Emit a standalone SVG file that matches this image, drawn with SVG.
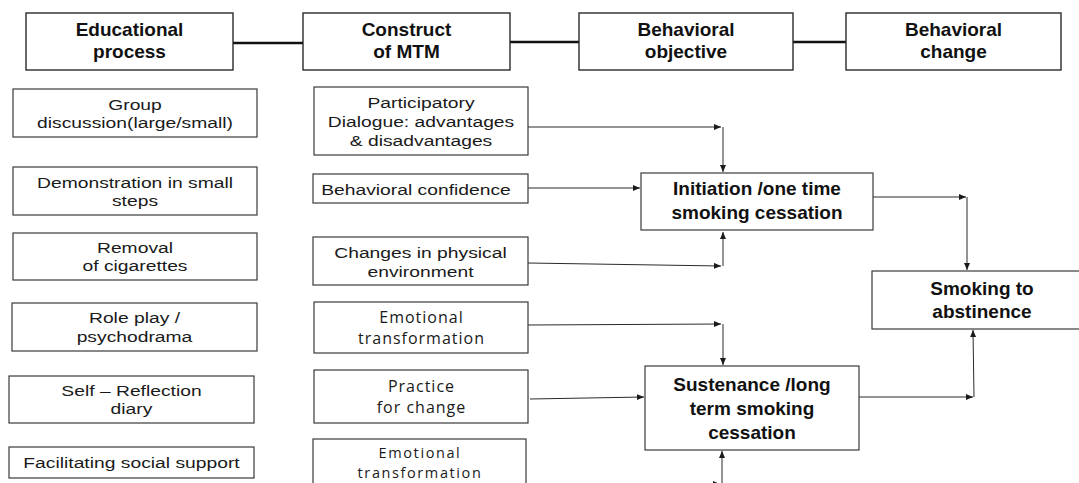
<svg xmlns="http://www.w3.org/2000/svg" width="1079" height="483" viewBox="0 0 1079 483">
<style>
.box{fill:#fff;stroke:#3a3a3a;stroke-width:1.2}
.hbox{fill:#fff;stroke:#2a2a2a;stroke-width:1.4}
.h{font-family:"Liberation Sans",Arial,sans-serif;font-weight:700;font-size:19px;fill:#111;text-anchor:middle}
.a{font-family:"Liberation Sans",Arial,sans-serif;font-size:14.5px;fill:#1a1a1a;text-anchor:middle}
.o{font-family:"Open Sans","Liberation Sans",sans-serif;font-size:16px;letter-spacing:1px;fill:#1a1a1a;text-anchor:middle}
.o2{font-family:"Open Sans","Liberation Sans",sans-serif;font-size:14.5px;letter-spacing:1.6px;fill:#1a1a1a;text-anchor:middle}
.c{fill:none;stroke:#2a2a2a;stroke-width:1}
.t{fill:none;stroke:#111;stroke-width:2.6}
</style>
<defs>
<marker id="ah" markerUnits="userSpaceOnUse" markerWidth="8" markerHeight="8" refX="7" refY="3" orient="auto">
<path d="M0,0 L7,3 L0,6 z" fill="#1a1a1a"/>
</marker>
</defs>
<rect width="1079" height="483" fill="#fff"/>

<g id="connectors">
<path class="t" d="M233,43 L303,43"/>
<path class="t" d="M510,42 L579,42"/>
<path class="t" d="M793,42 L846,42"/>
<path class="c" d="M528,127 L721,127" marker-end="url(#ah)"/>
<path class="c" d="M723,127 L723,172" marker-end="url(#ah)"/>
<path class="c" d="M528,188 L640,188" marker-end="url(#ah)"/>
<path class="c" d="M528,263 L721,266" marker-end="url(#ah)"/>
<path class="c" d="M723,266 L723,232" marker-end="url(#ah)"/>
<path class="c" d="M528,325 L721,324" marker-end="url(#ah)"/>
<path class="c" d="M723,324 L723,365" marker-end="url(#ah)"/>
<path class="c" d="M530,399 L644,397" marker-end="url(#ah)"/>
<path class="c" d="M526,486 L720,484" marker-end="url(#ah)"/>
<path class="c" d="M722,495 L722,451" marker-end="url(#ah)"/>
<path class="c" d="M873,197 L966,197" marker-end="url(#ah)"/>
<path class="c" d="M967,197 L967,270" marker-end="url(#ah)"/>
<path class="c" d="M859,397 L973,397" marker-end="url(#ah)"/>
<path class="c" d="M974,397 L973,330" marker-end="url(#ah)"/>
</g>

<g id="h-educational">
<rect class="hbox" x="26" y="13" width="207" height="57"/>
<text class="h"><tspan x="129.5" y="36">Educational</tspan><tspan x="129.5" y="58">process</tspan></text>
</g>
<g id="h-construct">
<rect class="hbox" x="303" y="13" width="207" height="57"/>
<text class="h"><tspan x="406.5" y="36">Construct</tspan><tspan x="406.5" y="58">of MTM</tspan></text>
</g>
<g id="h-objective">
<rect class="hbox" x="579" y="13" width="214" height="57"/>
<text class="h"><tspan x="686" y="36">Behavioral</tspan><tspan x="686" y="58">objective</tspan></text>
</g>
<g id="h-change">
<rect class="hbox" x="846" y="13" width="215" height="57"/>
<text class="h"><tspan x="953.5" y="36">Behavioral</tspan><tspan x="953.5" y="58">change</tspan></text>
</g>

<g id="e-group">
<rect class="box" x="13" y="89" width="244" height="48"/>
<text class="a" transform="translate(135 0) scale(1.33 1)"><tspan x="0" y="110">Group</tspan><tspan x="0" y="128">discussion(large/small)</tspan></text>
</g>
<g id="e-demo">
<rect class="box" x="13" y="167" width="244" height="48"/>
<text class="a" transform="translate(135 0) scale(1.33 1)"><tspan x="0" y="188">Demonstration  in small</tspan><tspan x="0" y="206">steps</tspan></text>
</g>
<g id="e-removal">
<rect class="box" x="13" y="233" width="244" height="47"/>
<text class="a" transform="translate(135 0) scale(1.33 1)"><tspan x="0" y="253">Removal</tspan><tspan x="0" y="271">of cigarettes</tspan></text>
</g>
<g id="e-role">
<rect class="box" x="12" y="303" width="245" height="48"/>
<text class="a" transform="translate(134.5 0) scale(1.33 1)"><tspan x="0" y="323">Role play /</tspan><tspan x="0" y="342">psychodrama</tspan></text>
</g>
<g id="e-self">
<rect class="box" x="9" y="376" width="245" height="47"/>
<text class="a" transform="translate(131.5 0) scale(1.33 1)"><tspan x="0" y="396">Self – Reflection</tspan><tspan x="0" y="414">diary</tspan></text>
</g>
<g id="e-social">
<rect class="box" x="9" y="447" width="245" height="31"/>
<text class="a" transform="translate(131.5 0) scale(1.33 1)"><tspan x="0" y="468">Facilitating social support</tspan></text>
</g>

<g id="m-participatory">
<rect class="box" x="314" y="87" width="214" height="68"/>
<text class="a" transform="translate(421 0) scale(1.33 1)"><tspan x="0" y="108">Participatory</tspan><tspan x="0" y="127">Dialogue:  advantages</tspan><tspan x="0" y="146">&amp; disadvantages</tspan></text>
</g>
<g id="m-confidence">
<rect class="box" x="313" y="174" width="215" height="29"/>
<text class="a" transform="translate(416 0) scale(1.33 1)"><tspan x="0" y="195">Behavioral confidence</tspan></text>
</g>
<g id="m-changes">
<rect class="box" x="313" y="237" width="215" height="48"/>
<text class="a" transform="translate(420.5 0) scale(1.33 1)"><tspan x="0" y="258">Changes  in physical</tspan><tspan x="0" y="277">environment</tspan></text>
</g>
<g id="m-emotional1">
<rect class="box" x="314" y="302" width="214" height="51"/>
<text class="o"><tspan x="421.5" y="323">Emotional</tspan><tspan x="421.5" y="344">transformation</tspan></text>
</g>
<g id="m-practice">
<rect class="box" x="314" y="370" width="214" height="53"/>
<text class="o"><tspan x="421.5" y="392">Practice</tspan><tspan x="421.5" y="413">for change</tspan></text>
</g>
<g id="m-emotional2">
<rect class="box" x="313" y="439" width="213" height="60"/>
<text class="o2"><tspan x="420" y="458">Emotional</tspan><tspan x="420" y="478">transformation</tspan></text>
</g>

<g id="o-initiation">
<rect class="box" x="641" y="173" width="232" height="57"/>
<text class="h"><tspan x="757" y="195">Initiation /one time</tspan><tspan x="757" y="219">smoking cessation</tspan></text>
</g>
<g id="o-sustenance">
<rect class="box" x="645" y="366" width="214" height="84"/>
<text class="h"><tspan x="752" y="391">Sustenance /long</tspan><tspan x="752" y="415">term smoking</tspan><tspan x="752" y="439">cessation</tspan></text>
</g>
<g id="c-abstinence">
<rect class="box" x="872" y="271" width="220" height="58"/>
<text class="h"><tspan x="982" y="295">Smoking to</tspan><tspan x="982" y="318">abstinence</tspan></text>
</g>
</svg>
